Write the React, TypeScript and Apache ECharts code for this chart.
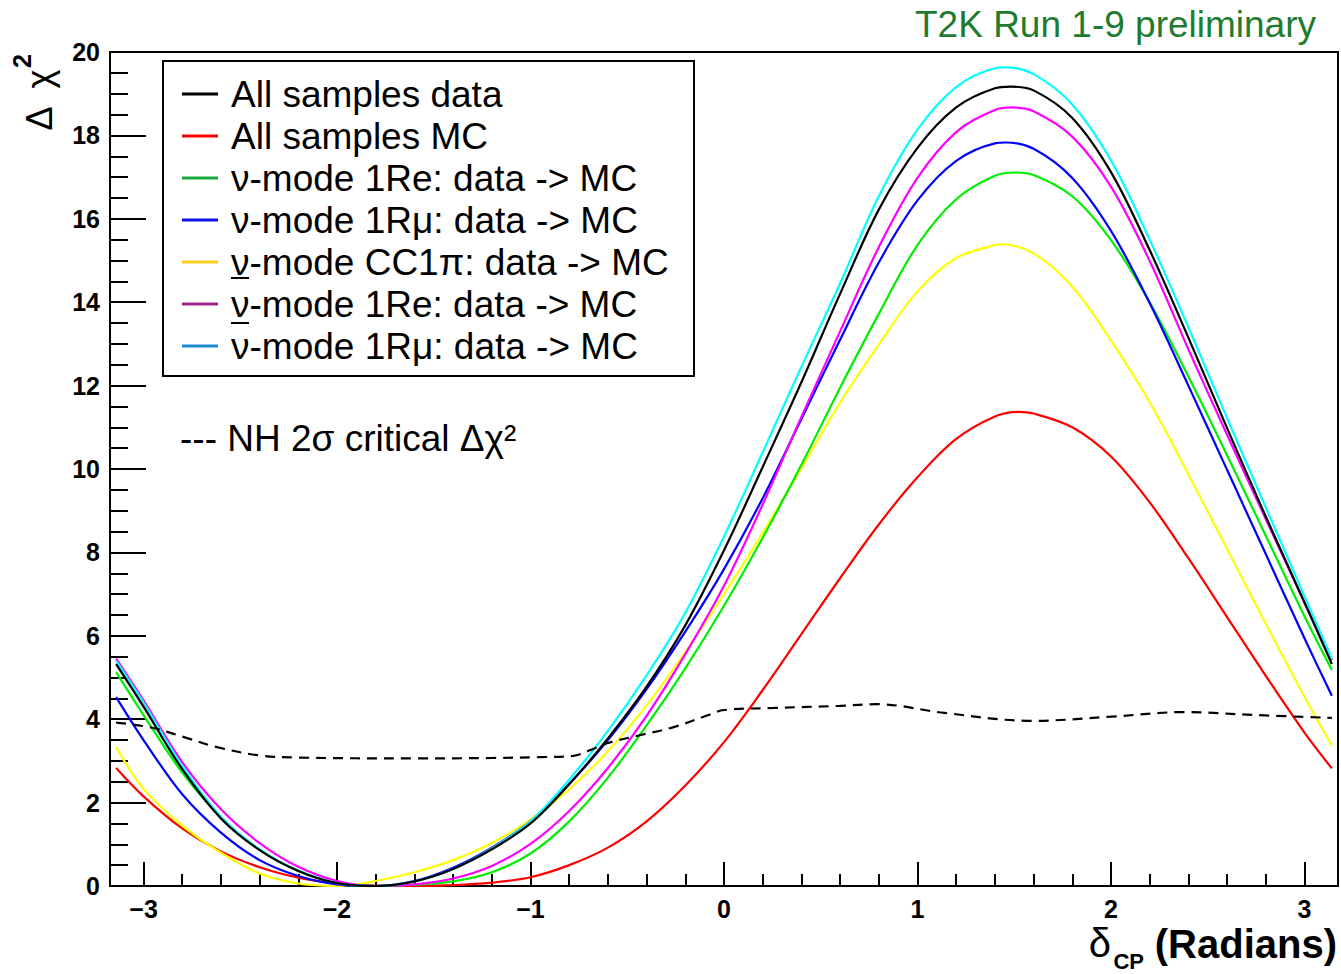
import React, { useEffect, useRef } from "react";
import * as echarts from "echarts";

// delta_CP grid (radians)
const DELTA = [-3.1416, -3.0, -2.8, -2.6, -2.4, -2.2, -2.0, -1.8, -1.6, -1.4, -1.2, -1.0, -0.8, -0.6, -0.4, -0.2, 0, 0.2, 0.4, 0.6, 0.8, 1.0, 1.2, 1.4, 1.6, 1.8, 2.0, 2.2, 2.4, 2.6, 2.8, 3.0, 3.1416];

const ALL_DATA = [5.32, 4.3, 2.8, 1.62, 0.86, 0.36, 0.07, 0.0, 0.11, 0.41, 0.88, 1.5, 2.44, 3.54, 4.78, 6.25, 8.05, 10.05, 12.08, 14.2, 16.22, 17.7, 18.67, 19.13, 19.08, 18.42, 17.12, 15.25, 13.15, 10.98, 8.86, 6.8, 5.32];
const ALL_MC = [2.83, 2.15, 1.38, 0.83, 0.45, 0.2, 0.06, 0.01, 0.0, 0.02, 0.08, 0.21, 0.5, 0.92, 1.55, 2.41, 3.45, 4.7, 6.04, 7.38, 8.67, 9.8, 10.72, 11.26, 11.33, 11.0, 10.3, 9.2, 7.86, 6.45, 5.04, 3.68, 2.82];
const NU_1RE = [5.13, 4.1, 2.72, 1.65, 0.87, 0.36, 0.07, 0.0, 0.03, 0.11, 0.33, 0.78, 1.55, 2.6, 3.85, 5.22, 6.72, 8.35, 10.1, 11.95, 13.72, 15.37, 16.47, 17.03, 17.05, 16.54, 15.49, 14.0, 12.22, 10.33, 8.4, 6.47, 5.18];
const NU_1RMU = [4.53, 3.5, 2.2, 1.28, 0.62, 0.24, 0.04, 0.0, 0.12, 0.44, 0.92, 1.55, 2.45, 3.5, 4.72, 6.1, 7.6, 9.3, 11.2, 13.1, 14.95, 16.44, 17.39, 17.81, 17.68, 16.98, 15.71, 13.98, 12.0, 9.98, 7.96, 5.94, 4.56];
const NU_CC1PI = [3.33, 2.33, 1.45, 0.8, 0.3, 0.06, 0.0, 0.12, 0.33, 0.62, 1.03, 1.59, 2.32, 3.23, 4.33, 5.61, 7.0, 8.47, 10.02, 11.59, 12.98, 14.26, 15.06, 15.37, 15.17, 14.37, 13.08, 11.6, 9.87, 8.08, 6.29, 4.54, 3.37];
const NUBAR_1RE = [5.45, 4.45, 2.97, 1.84, 1.03, 0.46, 0.12, 0.0, 0.04, 0.18, 0.48, 1.01, 1.8, 2.83, 4.08, 5.56, 7.2, 9.15, 11.25, 13.3, 15.32, 16.98, 18.08, 18.61, 18.58, 17.97, 16.77, 14.99, 12.87, 10.82, 8.8, 6.8, 5.42];
const NUBAR_1RMU = [5.4, 4.4, 2.88, 1.66, 0.88, 0.37, 0.07, 0.0, 0.11, 0.41, 0.9, 1.55, 2.55, 3.72, 5.05, 6.55, 8.38, 10.4, 12.45, 14.45, 16.54, 18.14, 19.16, 19.61, 19.47, 18.74, 17.4, 15.5, 13.4, 11.22, 9.08, 6.95, 5.45];

// maximum of each curve (position, value)
const PEAK_X = [1.48, 1.52, 1.506, 1.455, 1.43, 1.49, 1.455];
const PEAK_Y = [19.17, 11.37, 17.11, 17.83, 15.39, 18.67, 19.63];

// NH 2 sigma critical delta chi^2
const CRIT_X = [-3.1416, -2.96, -2.79, -2.62, -2.4, -2.2, -1.6, -1.2, -0.95, -0.78, -0.69, -0.6, -0.43, -0.26, -0.08, 0, 0.26, 0.6, 0.79, 1.14, 1.59, 2.0, 2.37, 2.75, 3.1416];
const CRIT_Y = [3.92, 3.8, 3.57, 3.33, 3.13, 3.08, 3.06, 3.07, 3.09, 3.12, 3.26, 3.43, 3.62, 3.81, 4.1, 4.22, 4.27, 4.32, 4.36, 4.15, 3.96, 4.06, 4.17, 4.1, 4.03];

const X_MAJOR = [-3, -2, -1, 0, 1, 2, 3];
const X_MINOR = [-2.8, -2.6, -2.4, -2.2, -1.8, -1.6, -1.4, -1.2, -0.8, -0.6, -0.4, -0.2, 0.2, 0.4, 0.6, 0.8, 1.2, 1.4, 1.6, 1.8, 2.2, 2.4, 2.6, 2.8];

const SERIES_NAMES = [
  "All samples data",
  "All samples MC",
  "ν-mode 1Re: data -> MC",
  "ν-mode 1Rμ: data -> MC",
  "ν-mode CC1π: data -> MC",
  "ν-mode 1Re: data -> MC",
  "ν-mode 1Rμ: data -> MC",
];
const SERIES_VALUES = [ALL_DATA, ALL_MC, NU_1RE, NU_1RMU, NU_CC1PI, NUBAR_1RE, NUBAR_1RMU];
const LINE_COLORS = ["#000000", "#ff0000", "#00ee00", "#0000ff", "#ffff00", "#ff00ff", "#00ffff"];
const LEGEND_COLORS = ["#000000", "#ff0000", "#19a83c", "#0a14e6", "#ffcc22", "#9c2a8e", "#1e8ad6"];
const DRAW_ORDER = [1, 4, 2, 3, 5, 6, 0];

const XMIN = -3.1733;
const XMAX = 3.1733;
const FONT = '"Liberation Sans", Arial, Helvetica, sans-serif';

function curvePoints(i: number): number[][] {
  const pts = DELTA.map((d, k) => [d, SERIES_VALUES[i][k]]);
  pts.push([PEAK_X[i], PEAK_Y[i]]);
  pts.sort((a, b) => a[0] - b[0]);
  return pts;
}

export default function App() {
  const ref = useRef<HTMLDivElement>(null);

  useEffect(() => {
    document.body.style.margin = "0";
    if (!ref.current) return;
    const chart = echarts.init(ref.current, undefined, { renderer: "svg" });

    const series: any[] = DRAW_ORDER.map((i) => ({
      type: "line",
      name: SERIES_NAMES[i] + (i >= 5 ? " (anti)" : ""),
      data: curvePoints(i),
      showSymbol: false,
      smooth: 0.35,
      lineStyle: { color: LINE_COLORS[i], width: 2.2 },
      itemStyle: { color: LINE_COLORS[i] },
      xAxisIndex: 0,
      yAxisIndex: 0,
      z: 3,
    }));
    series.push({
      type: "line",
      name: "NH 2σ critical Δχ²",
      data: CRIT_X.map((d, k) => [d, CRIT_Y[k]]),
      showSymbol: false,
      smooth: 0.35,
      lineStyle: { color: "#000", width: 2.2, type: [10, 7] },
      xAxisIndex: 0,
      yAxisIndex: 0,
      z: 4,
    });

    const rows = [94, 136, 178, 220, 262, 304, 346];
    const legendEls: any[] = [
      {
        type: "rect",
        shape: { x: 163, y: 61, width: 531, height: 315 },
        style: { fill: "#fff", stroke: "#000", lineWidth: 2 },
        z: 10,
      },
    ];
    rows.forEach((y, i) => {
      legendEls.push({
        type: "line",
        shape: { x1: 182, y1: y, x2: 218, y2: y },
        style: { stroke: LEGEND_COLORS[i], lineWidth: 3 },
        z: 11,
      });
      legendEls.push({
        type: "text",
        x: 231,
        y: y,
        style: {
          text: SERIES_NAMES[i],
          fill: "#000",
          fontSize: 37,
          fontFamily: FONT,
          verticalAlign: "middle",
          align: "left",
        },
        z: 11,
      });
    });
    // overline bars of the anti-neutrino entries
    [278, 323].forEach((y) => {
      legendEls.push({
        type: "line",
        shape: { x1: 231, y1: y, x2: 249, y2: y },
        style: { stroke: "#000", lineWidth: 2 },
        z: 11,
      });
    });

    chart.setOption({
      animation: false,
      backgroundColor: "#ffffff",
      textStyle: { fontFamily: FONT },
      grid: {
        left: 110,
        top: 52,
        width: 1228,
        height: 834,
        show: true,
        borderColor: "#000",
        borderWidth: 2,
        backgroundColor: "transparent",
        containLabel: false,
        outerBoundsMode: "none",
      },
      xAxis: [
        {
          type: "value",
          min: XMIN,
          max: XMAX,
          position: "bottom",
          axisLine: { show: true, onZero: false, lineStyle: { color: "#000", width: 2 } },
          axisTick: { show: true, inside: true, length: 24, customValues: X_MAJOR, lineStyle: { color: "#000", width: 2 } },
          axisLabel: {
            show: true,
            customValues: X_MAJOR,
            margin: 10,
            color: "#000",
            fontSize: 25,
            fontWeight: "bold",
            fontFamily: FONT,
            formatter: (v: number) => (v < 0 ? "\u2212" + Math.abs(v) : String(v)),
          },
          splitLine: { show: false },
        },
        {
          type: "value",
          min: XMIN,
          max: XMAX,
          position: "bottom",
          offset: 0,
          axisLine: { show: false, onZero: false },
          axisTick: { show: true, inside: true, length: 12, customValues: X_MINOR, lineStyle: { color: "#000", width: 2 } },
          axisLabel: { show: false },
          splitLine: { show: false },
        },
      ],
      yAxis: {
        type: "value",
        min: 0,
        max: 20,
        interval: 2,
        axisLine: { show: true, onZero: false, lineStyle: { color: "#000", width: 2 } },
        axisTick: { show: true, inside: true, length: 36, lineStyle: { color: "#000", width: 2 } },
        minorTick: { show: true, splitNumber: 4, length: 18, lineStyle: { color: "#000", width: 2 } },
        axisLabel: { margin: 10, color: "#000", fontSize: 25, fontWeight: "bold", fontFamily: FONT },
        splitLine: { show: false },
        minorSplitLine: { show: false },
      },
      series,
      graphic: [
        ...legendEls,
        {
          type: "text",
          x: 180,
          y: 438,
          style: { text: "--- NH 2σ critical Δχ²", fill: "#000", fontSize: 37, fontFamily: FONT, verticalAlign: "middle" },
          z: 11,
        },
        {
          type: "text",
          x: 1316,
          y: 24,
          style: { text: "T2K Run 1-9 preliminary", fill: "#1e7b30", fontSize: 37, fontFamily: FONT, align: "right", verticalAlign: "middle" },
        },
        // y-axis title
        {
          type: "text",
          x: 39,
          y: 100,
          rotation: Math.PI / 2,
          style: { text: "Δ  χ", fill: "#000", fontSize: 36, fontFamily: FONT, align: "center", verticalAlign: "middle" },
        },
        {
          type: "text",
          x: 22,
          y: 61,
          rotation: Math.PI / 2,
          style: { text: "2", fill: "#000", fontSize: 25, fontWeight: "bold", fontFamily: FONT, align: "center", verticalAlign: "middle" },
        },
        // x-axis title
        {
          type: "text",
          x: 1337,
          y: 944,
          style: { text: "(Radians)", fill: "#000", fontSize: 40, fontWeight: "bold", fontFamily: FONT, align: "right", verticalAlign: "middle" },
        },
        {
          type: "text",
          x: 1144,
          y: 961,
          style: { text: "CP", fill: "#000", fontSize: 22, fontWeight: "bold", fontFamily: FONT, align: "right", verticalAlign: "middle" },
        },
        {
          type: "text",
          x: 1111,
          y: 943,
          style: { text: "δ", fill: "#000", fontSize: 40, fontFamily: FONT, align: "right", verticalAlign: "middle" },
        },
      ],
    });

    return () => chart.dispose();
  }, []);

  return <div ref={ref} style={{ width: 1341, height: 974 }} />;
}
